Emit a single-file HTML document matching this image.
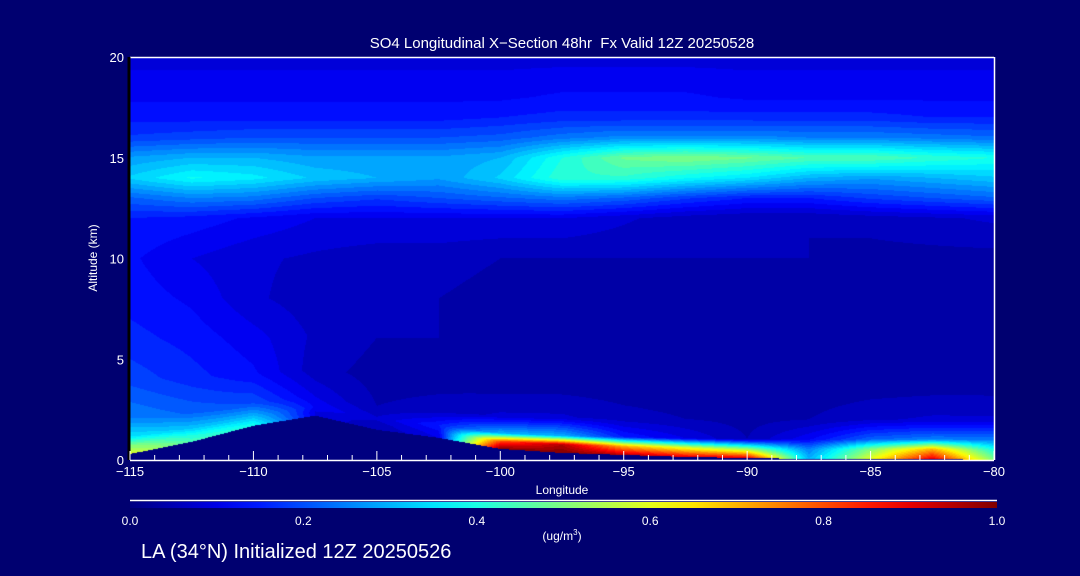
<!DOCTYPE html>
<html><head><meta charset="utf-8"><style>
body{margin:0;background:#000070;}
#wrap{position:relative;width:1080px;height:576px;background:#000070;overflow:hidden;font-family:"Liberation Sans",sans-serif;color:#fff;}
.t{position:absolute;white-space:nowrap;}
</style></head><body>
<div id="wrap">
<div class="t" style="left:0;width:1124px;text-align:center;top:35px;font-size:15px;">SO4 Longitudinal X&#8722;Section 48hr &nbsp;Fx Valid 12Z 20250528</div>
<canvas id="cv" width="864" height="403" style="position:absolute;left:130px;top:57px;"></canvas>
<svg id="ax" width="1080" height="576" style="position:absolute;left:0;top:0;"></svg>
<div class="t" style="left:93px;top:258px;font-size:12px;transform:translate(-50%,-50%) rotate(-90deg);">Altitude (km)</div>
<div class="t" style="left:562px;top:483px;font-size:12px;transform:translateX(-50%);">Longitude</div>
<div class="t" style="left:562px;top:528px;font-size:12px;transform:translateX(-50%);">(ug/m<sup style="font-size:8px">3</sup>)</div>
<div class="t" style="left:141px;top:541px;font-size:20px;">LA (34°N) Initialized 12Z 20250526</div>
</div>
<script>
const lons=[-115,-112.5,-110,-107.5,-105,-102.5,-100,-97.5,-95,-92.5,-90,-87.5,-85,-82.5,-80];
const terrain=[0.3,0.9,1.7,2.2,1.5,1.1,0.55,0.35,0.25,0.15,0.1,0.05,0.05,0.05,0.0];
const hAGL=[0,0.5,1,2,4,6,8,10,12,13,14,15,16,17,18,20];
const field=[
[0.6,0.45,0.4,0.1,0.05,0.1,1.0,1.0,0.95,0.9,0.9,0.3,0.6,0.9,0.5],
[0.5,0.4,0.35,0.1,0.06,0.12,0.8,0.95,0.7,0.6,0.5,0.25,0.5,0.7,0.4],
[0.35,0.32,0.3,0.12,0.08,0.15,0.3,0.3,0.15,0.1,0.05,0.12,0.22,0.25,0.25],
[0.25,0.22,0.2,0.1,0.05,0.06,0.08,0.08,0.06,0.05,0.04,0.05,0.07,0.08,0.08],
[0.19,0.16,0.13,0.06,0.04,0.04,0.03,0.03,0.03,0.03,0.03,0.03,0.03,0.03,0.03],
[0.16,0.14,0.11,0.07,0.05,0.05,0.04,0.03,0.03,0.03,0.03,0.03,0.03,0.03,0.03],
[0.14,0.12,0.08,0.06,0.06,0.05,0.04,0.04,0.04,0.04,0.04,0.04,0.04,0.03,0.03],
[0.13,0.1,0.08,0.07,0.06,0.06,0.05,0.05,0.05,0.05,0.05,0.05,0.04,0.04,0.04],
[0.15,0.14,0.12,0.1,0.1,0.1,0.1,0.1,0.08,0.06,0.05,0.05,0.06,0.07,0.08],
[0.22,0.25,0.24,0.2,0.18,0.2,0.22,0.24,0.22,0.18,0.15,0.15,0.18,0.2,0.22],
[0.33,0.38,0.36,0.32,0.3,0.28,0.33,0.42,0.42,0.38,0.35,0.3,0.28,0.3,0.32],
[0.28,0.3,0.3,0.28,0.28,0.28,0.3,0.4,0.48,0.5,0.48,0.45,0.45,0.42,0.4],
[0.18,0.19,0.2,0.2,0.2,0.2,0.21,0.24,0.26,0.26,0.26,0.25,0.25,0.24,0.23],
[0.14,0.14,0.14,0.14,0.14,0.14,0.15,0.16,0.16,0.16,0.16,0.16,0.16,0.15,0.15],
[0.12,0.12,0.12,0.12,0.12,0.12,0.12,0.13,0.13,0.13,0.12,0.12,0.12,0.12,0.12],
[0.09,0.09,0.09,0.09,0.09,0.09,0.09,0.09,0.09,0.09,0.09,0.09,0.09,0.09,0.09]];
const xTicks=[-115,-110,-105,-100,-95,-90,-85,-80];
const yTicks=[0,5,10,15,20];
const cbTicks=[0,0.2,0.4,0.6,0.8,1.0];

const X0=130,X1=994,Y0=460,Y1=57;
const sx=v=>X0+(v+115)/35*(X1-X0);
const sy=v=>Y0-v/20*(Y0-Y1);
function clamp(v){return Math.max(0,Math.min(1,v));}
function jet(v){return [clamp(1.5-Math.abs(4*v-3)),clamp(1.5-Math.abs(4*v-2)),clamp(1.5-Math.abs(4*v-1))].map(c=>Math.round(c*255));}
function idx(xs,x){
  if(x<=xs[0])return [0,0];
  for(let i=0;i<xs.length-1;i++){if(x<=xs[i+1])return [i,(x-xs[i])/(xs[i+1]-xs[i])];}
  return [xs.length-2,1];
}
const cv=document.getElementById('cv'),ctx=cv.getContext('2d');
const W=cv.width,H=cv.height,img=ctx.createImageData(W,H);
const NL=40;
for(let px=0;px<W;px++){
  const lon=-115+(px+0.5)/W*35;
  const [ci,cf]=idx(lons,lon);
  const ter=terrain[ci]*(1-cf)+terrain[ci+1]*cf;
  for(let py=0;py<H;py++){
    const z=(H-py-0.5)/H*20;
    let col;
    if(z<ter){col=[0,0,128];}
    else{
      const d=z-ter;
      const h=z-ter*Math.exp(-d/1.5);
      const [ri,rf]=idx(hAGL,h);
      const a=field[ri][ci]*(1-cf)+field[ri][ci+1]*cf;
      const b=field[ri+1][ci]*(1-cf)+field[ri+1][ci+1]*cf;
      let v=a*(1-rf)+b*rf;
      v=Math.floor(v*NL)/NL+0.5/NL;
      col=jet(Math.min(v,1));
    }
    const k=(py*W+px)*4;
    img.data[k]=col[0];img.data[k+1]=col[1];img.data[k+2]=col[2];img.data[k+3]=255;
  }
}
ctx.putImageData(img,0,0);

const svg=document.getElementById('ax');
const NS='http://www.w3.org/2000/svg';
function mk(tag,attrs,parent){const e=document.createElementNS(NS,tag);for(const k in attrs)e.setAttribute(k,attrs[k]);(parent||svg).appendChild(e);return e;}
const defs=mk('defs',{});
const lg=mk('linearGradient',{id:'jetg',x1:'0',x2:'1',y1:'0',y2:'0'},defs);
for(let i=0;i<=20;i++){const c=jet(i/20);mk('stop',{offset:(i/20),'stop-color':`rgb(${c})`},lg);}
const CB0=130,CB1=997;
let e=mk('rect',{x:CB0,y:502,width:CB1-CB0,height:6,fill:'url(#jetg)'});


e=mk('line',{x1:CB0,x2:CB1,y1:500.5,y2:500.5,stroke:'#fff','stroke-width':1.5});


cbTicks.forEach(t=>{
  const tx=mk('text',{x:CB0+t*(CB1-CB0),y:525,fill:'#fff','font-size':12,'text-anchor':'middle','font-family':'Liberation Sans'});
  tx.textContent=t.toFixed(1);
  
  
});
e=mk('line',{x1:X0,x2:X1,y1:Y1+0.5,y2:Y1+0.5,stroke:'#fff','stroke-width':1.5});


e=mk('line',{x1:X1+0.5,x2:X1+0.5,y1:Y1,y2:Y0,stroke:'#fff','stroke-width':1.5});


e=mk('line',{x1:X0,x2:X1,y1:Y0+0.5,y2:Y0+0.5,stroke:'#fff','stroke-width':1.5});


e=mk('line',{x1:X0-1,x2:X0-1,y1:Y1,y2:Y0,stroke:'#000','stroke-width':3});


for(let l=-115;l<=-80;l++){
  const major=(l%5===0);
  e=mk('line',{x1:sx(l),x2:sx(l),y1:Y0,y2:Y0-(major?9:5),stroke:'#fff','stroke-width':1});
  
  
}
xTicks.forEach(t=>{
  const tx=mk('text',{x:sx(t),y:476,fill:'#fff','font-size':13,'text-anchor':'middle','font-family':'Liberation Sans'});
  tx.textContent=(t<0?'\u2212':'')+Math.abs(t);
  
  
});
yTicks.forEach(t=>{
  const tx=mk('text',{x:124,y:sy(t)+5,fill:'#fff','font-size':13,'text-anchor':'end','font-family':'Liberation Sans'});
  tx.textContent=t;
  
  
});
</script>
</body></html>
